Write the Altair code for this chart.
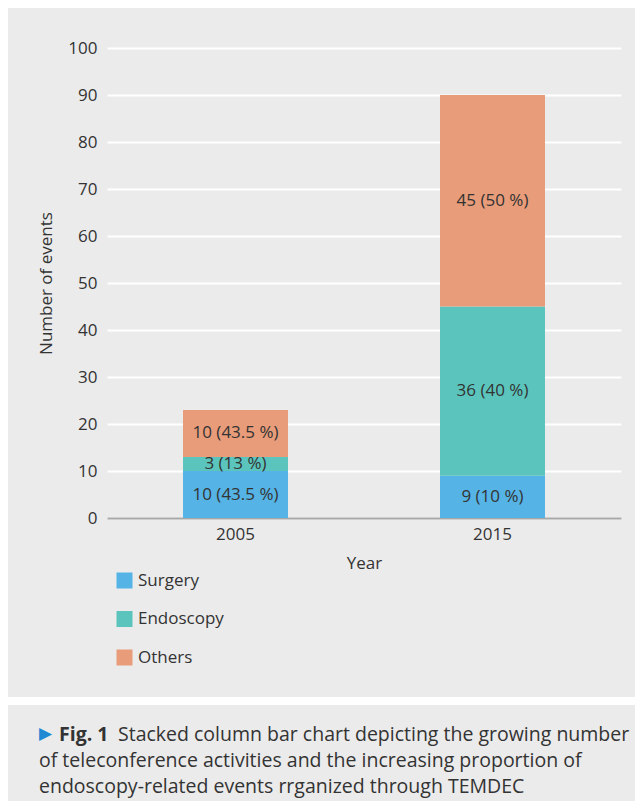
import altair as alt
import pandas as pd

years = ["2005", "2005", "2005", "2015", "2015", "2015"]
categories = ["Surgery", "Endoscopy", "Others", "Surgery", "Endoscopy", "Others"]
order_idx = [0, 1, 2, 0, 1, 2]
values = [10, 3, 10, 9, 36, 45]
labels = ["10 (43.5 %)", "3 (13 %)", "10 (43.5 %)", "9 (10 %)", "36 (40 %)", "45 (50 %)"]
y_ticks = [0, 10, 20, 30, 40, 50, 60, 70, 80, 90, 100]
cat_domain = ["Surgery", "Endoscopy", "Others"]
cat_colors = ["#55b3e6", "#5bc5bd", "#e89c7a"]

caption_fig = "Fig. 1"
caption_lines = [
    "Stacked column bar chart depicting the growing number",
    "of teleconference activities and the increasing proportion of",
    "endoscopy-related events rrganized through TEMDEC",
]

df = pd.DataFrame({"year": years, "category": categories, "idx": order_idx,
                   "value": values, "label": labels})

FONT = "Open Sans"
TXT = "#333333"
BG = "#ebebeb"
CAP = 19.5

base = alt.Chart(df)

bars = base.mark_bar(size=105).encode(
    x=alt.X("year:N", title="Year",
            scale=alt.Scale(paddingInner=0.59, paddingOuter=0.295),
            axis=alt.Axis(labelAngle=0, ticks=False, labelPadding=8,
                          domainColor="#a8a8a8", domainWidth=2,
                          titleY=45, titleBaseline="middle", grid=False)),
    y=alt.Y("value:Q", title="Number of events", stack="zero",
            scale=alt.Scale(domain=[0, 100], nice=False),
            axis=alt.Axis(values=y_ticks, ticks=False, domain=False, labelPadding=10,
                          gridColor="white", gridWidth=2, gridOpacity=1,
                          titleAngle=270, titleX=-61, titleY=235,
                          titleBaseline="middle", titleAlign="center")),
    color=alt.Color("category:N",
                    scale=alt.Scale(domain=cat_domain, range=cat_colors),
                    legend=alt.Legend(title=None, orient="none", legendX=9, legendY=524,
                                      direction="vertical", symbolType="square",
                                      symbolSize=256, symbolStrokeWidth=0,
                                      symbolOpacity=1, rowPadding=20.5,
                                      labelOffset=5, padding=0)),
    order=alt.Order("idx:Q", sort="ascending"),
)

texts = base.transform_stack(
    stack="value", groupby=["year"], sort=[alt.SortField("idx", order="ascending")],
    as_=["y0", "y1"]
).transform_calculate(
    mid="(datum.y0 + datum.y1) / 2"
).mark_text(font=FONT, fontSize=17, color=TXT, baseline="middle").encode(
    x=alt.X("year:N"),
    y=alt.Y("mid:Q"),
    text="label:N",
)

sep = alt.Chart(pd.DataFrame({"k": [0]})).mark_rule(color="white", strokeWidth=8).encode(
    x=alt.value(-110), x2=alt.value(540), y=alt.value(653)
)

tri = alt.Chart(pd.DataFrame({"t": ["\u25B6"]})).mark_text(
    font="DejaVu Sans", fontSize=17, color="#1e8ad3", align="left", baseline="middle"
).encode(x=alt.value(-68), y=alt.value(686), text="t:N")

fig = alt.Chart(pd.DataFrame({"t": [caption_fig]})).mark_text(
    font=FONT, fontSize=CAP, fontWeight="bold", color=TXT, align="left", baseline="middle"
).encode(x=alt.value(-48), y=alt.value(687), text="t:N")

line_layers = []
for i, (xx, yy) in enumerate([(11, 687), (-68, 713), (-68, 739)]):
    line_layers.append(
        alt.Chart(pd.DataFrame({"t": [caption_lines[i]]})).mark_text(
            font=FONT, fontSize=CAP, color=TXT, align="left", baseline="middle"
        ).encode(x=alt.value(xx), y=alt.value(yy), text="t:N")
    )

chart = alt.layer(bars, texts, sep, tri, fig, *line_layers).properties(
    width=514, height=470,
    autosize=alt.AutoSizeParams(type="none"),
    padding={"left": 99, "top": 40, "right": 14, "bottom": 283},
    background=BG,
).configure_view(stroke=None, fill=BG).configure_axis(
    labelFont=FONT, titleFont=FONT, labelFontSize=17, titleFontSize=17,
    labelColor=TXT, titleColor=TXT, titleFontWeight="normal"
).configure_legend(
    labelFont=FONT, labelFontSize=17, labelColor=TXT
)

chart.save("out.html", embed_options={"renderer": "svg", "actions": False})
